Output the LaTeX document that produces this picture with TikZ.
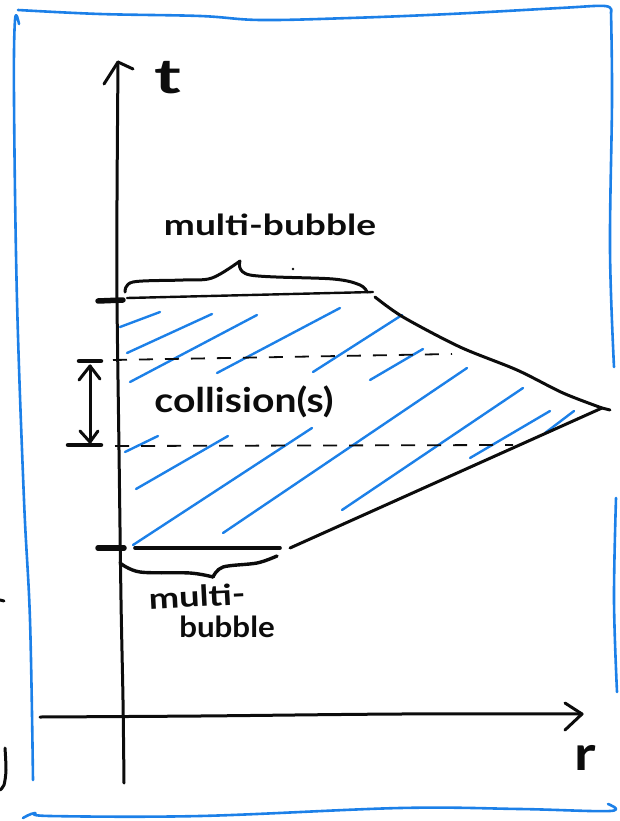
\documentclass[tikz,border=0pt]{standalone}
\usepackage{fontspec}
\setmainfont{Lato}
\usepackage{graphicx}
\usetikzlibrary{arrows.meta}
\definecolor{penblue}{RGB}{28,128,232}
\definecolor{ink}{RGB}{12,12,12}
\begin{document}
\begin{tikzpicture}[x=1pt,y=-1pt,
  frame/.style={draw=penblue,line width=2.6pt,line cap=round,line join=round},
  hatch/.style={draw=penblue,line width=2.4pt,line cap=round},
  pen/.style={draw=ink,line width=3pt,line cap=round,line join=round},
  thickpen/.style={draw=ink,line width=5.5pt,line cap=round},
  thinpen/.style={draw=ink,line width=2.4pt,line cap=round,line join=round},
  dashln/.style={draw=ink,line width=1.8pt,dash pattern=on 14pt off 12pt},
  lbl/.style={inner sep=0pt,text=ink,font=\fontsize{29}{31}\selectfont\bfseries},
  axlbl/.style={inner sep=0pt,text=ink,font=\fontsize{48}{50}\selectfont\bfseries},
]
\useasboundingbox (0,0) rectangle (619,821);

% ---------- blue frame ----------
\draw[frame] plot[smooth,tension=0.6] coordinates {(18,10) (100,14) (200,16) (260,20) (350,18) (450,14) (560,8) (605,6) (611,12)};
\draw[frame] plot[smooth,tension=0.6] coordinates {(19,24) (15,20) (14,100) (17,300) (24,500) (30,620) (33,780)};
\draw[frame] plot[smooth,tension=0.6] coordinates {(611,12) (612,100) (610,250) (614,367)};
\draw[frame] plot[smooth,tension=0.6] coordinates {(616,498) (614,600) (617,692)};
\draw[frame] plot[smooth,tension=0.6] coordinates {(23,818) (35,813) (50,816) (200,816) (400,808) (520,809) (610,811) (608,804)};

% stray marks left of frame
\draw[pen] (0,600) -- (4,601);
\draw[pen] plot[smooth] coordinates {(5,748) (6,770) (4,785) (0,790)};

% ---------- axes ----------
\coordinate (tTop) at (118,62);
\coordinate (tBot) at (124,783);
\draw[pen] plot[smooth] coordinates {(tTop) (117,200) (117,300) (119,450) (121,600) (123,700) (tBot)};
\draw[pen] (104,84) -- (tTop) -- (133,69);
\node[axlbl] (tlab) at (168,78) {\scalebox{1.5}[1]{t}};

\coordinate (rLeft) at (40,717);
\coordinate (rRight) at (582,714);
\draw[pen] plot[smooth] coordinates {(rLeft) (200,716) (400,714) (rRight)};
\draw[pen] (565,703) -- (rRight) -- (565,730);
\node[axlbl] (rlab) at (585,758) {\scalebox{1.2}[1]{r}};

% ---------- blue hatching ----------
\draw[hatch] (120,327) -- (160,312);
\draw[hatch] (127,353) -- (212,314);
\draw[hatch] (130,382) -- (257,315);
\draw[hatch] (217,373) -- (340,308);
\draw[hatch] (313,372) -- (402,315);
\draw[hatch] (370,380) -- (423,349);
\draw[hatch] (125,452) -- (158,436);
\draw[hatch] (136,489) -- (228,436);
\draw[hatch] (133,545) -- (312,428);
\draw[hatch] (223,533) -- (467,368);
\draw[hatch] (342,510) -- (523,388);
\draw[hatch] (470,458) -- (550,411);
\draw[hatch] (545,433) -- (574,411);

% ---------- region outline ----------
\coordinate (topL) at (127,298);
\coordinate (topR) at (373,292);
\coordinate (tip) at (602,408);
\coordinate (botL) at (135,548);
\coordinate (botR) at (280,548);
\draw[thinpen] (topL) -- (topR);
\draw[pen] plot[smooth,tension=0.5] coordinates {(375,297) (403,317) (460,347) (517,370) (563,393) (tip)} -- (610,410);
\draw[pen] (tip) -- (290,548);
\draw[pen,line width=3.6pt] (botL) -- (botR);

% ticks on t axis
\draw[thickpen] (98,301) -- (123,300);
\draw[thickpen] (98,548) -- (124,548);

% ---------- braces ----------
\draw[pen] plot[smooth,tension=0.55] coordinates {(125,292) (133,282) (183,280) (212,278) (240,261)};
\draw[pen] plot[smooth,tension=0.55] coordinates {(240,261) (250,275) (333,279) (360,285) (367,292)};
\fill[ink] (293,269) circle (1.3pt);
\draw[pen,line width=3.4pt] plot[smooth,tension=0.55] coordinates {(120,563) (140,572) (190,573) (213,577)};
\draw[pen,line width=3.4pt] plot[smooth,tension=0.55] coordinates {(213,577) (223,567) (257,563) (277,556)};

% ---------- dashed levels ----------
\coordinate (d1L) at (113,360);
\coordinate (d1R) at (452,354);
\coordinate (d2L) at (115,446);
\coordinate (d2R) at (513,445);
\draw[dashln] (d1L) -- (d1R);
\draw[dashln] (d2L) -- (d2R);

% interval marker
\draw[thickpen,line width=4.5pt] (79,361) -- (101,361);
\draw[thickpen,line width=4.5pt] (68,445) -- (101,445);
\coordinate (aTop) at (90,366);
\coordinate (aBot) at (90,442);
\draw[pen] (aTop) -- (aBot);
\draw[pen] (79,380) -- (aTop) -- (100,379);
\draw[pen] (80,431) -- (aBot) -- (98,431);

% ---------- labels ----------
\node[lbl] (mbTop) at (270,225) {\scalebox{1.28}[1]{multi-bubble}};
\node[lbl,font=\fontsize{34}{36}\selectfont\bfseries] (coll) at (244,402) {\scalebox{1.15}[1]{collision(s)}};
\node[lbl,rotate=3] (mbBot1) at (197,596) {\scalebox{1.25}[1]{multi-}};
\node[lbl] (mbBot2) at (227,627) {\scalebox{1.08}[1]{bubble}};
\end{tikzpicture}
\end{document}
